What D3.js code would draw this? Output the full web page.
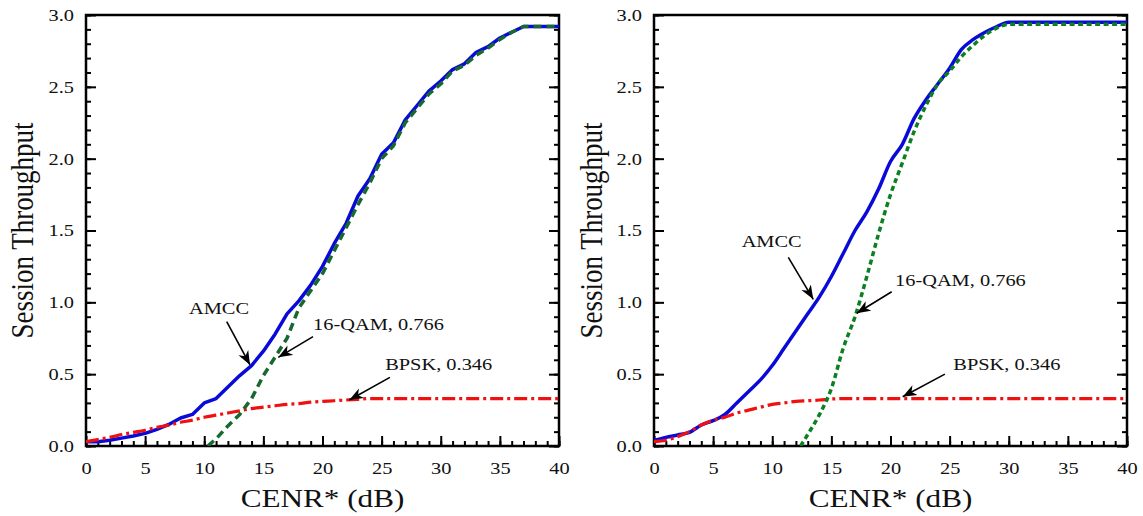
<!DOCTYPE html>
<html lang="en">
<head>
<meta charset="UTF-8">
<title>Session Throughput vs CENR*</title>
<script src="https://d3js.org/d3.v7.min.js"></script>
<style>
  body { margin: 0; background: #fff; }
  svg { display: block; font-family: "Liberation Serif", "Times New Roman", serif; }
</style>
</head>
<body>
<div id="chart"></div>
<script>
// ---- data ----
const snr = [0,1,2,3,4,5,6,7,8,9,10,11,12,13,14,15,16,17,18,19,20,
             21,22,23,24,25,26,27,28,29,30,31,32,33,34,35,36,37,38,39,40];

// left panel
const amccLeft = [0.03,0.03,0.04,0.055,0.07,0.088,0.116,0.15,0.195,0.22,0.30,
                  0.33,0.41,0.49,0.56,0.66,0.78,0.92,1.01,1.12,1.25,
                  1.41,1.55,1.74,1.86,2.03,2.11,2.27,2.37,2.47,2.54,
                  2.62,2.66,2.74,2.78,2.84,2.88,2.92,2.92,2.92,2.92];
const qamLeftX = [10.3,11,12,13,14,15,16,17,18,19,20,21,22,23,24,25,26,27,28,29,30,
                  31,32,33,34,35,36,37,38,39,40];
const qamLeft = [0,0.05,0.14,0.22,0.33,0.49,0.62,0.75,0.96,1.08,1.20,1.36,1.52,1.68,1.83,2.00,
                 2.09,2.25,2.35,2.45,2.52,2.61,2.65,2.72,2.77,2.83,2.88,2.92,2.92,2.92,2.92];
const bpskLeft = [0.03,0.045,0.06,0.08,0.095,0.11,0.13,0.145,0.165,0.18,0.2,
                  0.215,0.23,0.245,0.26,0.27,0.28,0.29,0.295,0.305,0.31,
                  0.315,0.32,0.325,0.33,0.33,0.33,0.33,0.33,0.33,0.33,
                  0.33,0.33,0.33,0.33,0.33,0.33,0.33,0.33,0.33,0.33];

// right panel
const amccRight = [0.04,0.06,0.077,0.095,0.146,0.176,0.22,0.30,0.38,0.46,0.56,
                   0.68,0.80,0.92,1.04,1.18,1.34,1.50,1.63,1.79,1.98,
                   2.10,2.28,2.41,2.52,2.63,2.76,2.83,2.88,2.92,2.95,
                   2.95,2.95,2.95,2.95,2.95,2.95,2.95,2.95,2.95,2.95];
const qamRightX = [12.4,13,14,15,16,17,18,19,20,21,22,23,24,25,26,27,28,29,30,
                   31,32,33,34,35,36,37,38,39,40];
const qamRight = [0,0.08,0.22,0.40,0.68,0.90,1.18,1.48,1.75,1.97,2.19,2.37,2.52,2.61,
                  2.71,2.79,2.86,2.91,2.935,2.935,2.935,2.935,2.935,2.935,2.935,2.935,2.935,2.935,2.935];
const bpskRight = [0.03,0.04,0.065,0.1,0.146,0.18,0.2,0.23,0.25,0.27,0.29,
                   0.30,0.31,0.315,0.32,0.327,0.33,0.33,0.33,0.33,0.33,
                   0.33,0.33,0.33,0.33,0.33,0.33,0.33,0.33,0.33,0.33,
                   0.33,0.33,0.33,0.33,0.33,0.33,0.33,0.33,0.33,0.33];

const labels = ["AMCC", "16-QAM, 0.766", "BPSK, 0.346"];
const yMajor = [0, 0.5, 1.0, 1.5, 2.0, 2.5, 3.0];
const xMajor = [0, 5, 10, 15, 20, 25, 30, 35, 40];

// ---- layout ----
const W = 1143, H = 516;
const plotTop = 15, plotBottom = 446, plotW = 473;
const stretch = 1.2;   // the original figure is slightly wider than tall

const svg = d3.select("#chart").append("svg")
  .attr("width", W).attr("height", H);
svg.append("rect").attr("width", W).attr("height", H).attr("fill", "#fff");

const defs = svg.append("defs");
defs.append("marker")
  .attr("id", "arrow")
  .attr("viewBox", "-14 -6 16 12")
  .attr("refX", 0).attr("refY", 0)
  .attr("markerWidth", 16).attr("markerHeight", 12)
  .attr("markerUnits", "userSpaceOnUse")
  .attr("orient", "auto")
  .append("path")
  .attr("d", "M0,0 L-14,-5.5 L-10,0 L-14,5.5 Z")
  .attr("fill", "#000");

function panel(left, series, notes, titleX) {
  const x = d3.scaleLinear().domain([0, 40]).range([left, left + plotW]);
  const y = d3.scaleLinear().domain([0, 3]).range([plotBottom, plotTop]);
  const g = svg.append("g");

  // minor ticks
  const minorY = d3.range(0, 30.001, 1).map(v => v / 10);
  const minorX = d3.range(0, 41, 1);
  g.append("g").attr("transform", `translate(${left},0)`)
    .call(d3.axisLeft(y).tickValues(minorY).tickSize(-5).tickFormat(""));
  g.append("g").attr("transform", `translate(${left + plotW},0)`)
    .call(d3.axisRight(y).tickValues(minorY).tickSize(-5).tickFormat(""));
  g.append("g").attr("transform", `translate(0,${plotBottom})`)
    .call(d3.axisBottom(x).tickValues(minorX).tickSize(-5).tickFormat(""));

  // major ticks + labels
  const ay = g.append("g").attr("transform", `translate(${left},0)`)
    .call(d3.axisLeft(y).tickValues(yMajor).tickSize(-10).tickPadding(10).tickFormat(d3.format(".1f")));
  g.append("g").attr("transform", `translate(${left + plotW},0)`)
    .call(d3.axisRight(y).tickValues(yMajor).tickSize(-10).tickFormat(""));
  const ax = g.append("g").attr("transform", `translate(0,${plotBottom})`)
    .call(d3.axisBottom(x).tickValues(xMajor).tickSize(-10).tickPadding(16).tickFormat(d3.format("d")));

  g.selectAll(".domain").remove();
  g.selectAll(".tick line").attr("stroke", "#000").attr("stroke-width", 2);
  [ay, ax].forEach(a => a.selectAll("text")
    .attr("font-family", "Liberation Serif")
    .attr("font-size", 17)
    .attr("fill", "#111")
    .attr("transform", `scale(${stretch},1)`));

  // frame
  g.append("rect")
    .attr("x", left).attr("y", plotTop)
    .attr("width", plotW).attr("height", plotBottom - plotTop)
    .attr("fill", "none").attr("stroke", "#000").attr("stroke-width", 2.5);

  // curves
  const clip = "clip" + left;
  defs.append("clipPath").attr("id", clip).append("rect")
    .attr("x", left).attr("y", plotTop - 4).attr("width", plotW).attr("height", plotBottom - plotTop + 4);
  const curves = g.append("g").attr("clip-path", `url(#${clip})`);
  series.forEach(s => {
    const pts = s.xs.map((v, i) => [v, s.ys[i]]);
    curves.append("path")
      .datum(pts)
      .attr("fill", "none")
      .attr("stroke", s.color)
      .attr("stroke-width", s.width)
      .attr("stroke-dasharray", s.dash)
      .attr("stroke-linejoin", "round")
      .attr("d", d3.line().x(d => x(d[0])).y(d => y(d[1])).curve(s.curve));
  });

  // annotations
  notes.forEach((n, i) => {
    g.append("line")
      .attr("x1", x(n.tail[0])).attr("y1", y(n.tail[1]))
      .attr("x2", x(n.tip[0])).attr("y2", y(n.tip[1]))
      .attr("stroke", "#000").attr("stroke-width", 1.6)
      .attr("marker-end", "url(#arrow)");
    g.append("text")
      .attr("transform", `translate(${x(n.at[0])},${y(n.at[1])}) scale(${stretch},1)`)
      .attr("text-anchor", n.anchor)
      .attr("font-size", 17)
      .attr("fill", "#111")
      .text(labels[i]);
  });

  // axis titles
  g.append("text")
    .attr("transform", `translate(${titleX},${(plotTop + plotBottom) / 2}) scale(${stretch},1) rotate(-90)`)
    .attr("text-anchor", "middle")
    .attr("font-size", 27)
    .attr("fill", "#111")
    .text("Session Throughput");
  g.append("text")
    .attr("transform", `translate(${left + plotW / 2},507) scale(${stretch},1)`)
    .attr("text-anchor", "middle")
    .attr("font-size", 26)
    .attr("fill", "#111")
    .text("CENR* (dB)");
}

panel(86, [
  { xs: snr, ys: amccLeft, color: "#0a0ad8", width: 3.5, dash: null, curve: d3.curveLinear },
  { xs: snr, ys: bpskLeft, color: "#f01010", width: 3.2, dash: "13,4,3,4", curve: d3.curveMonotoneX },
  { xs: qamLeftX, ys: qamLeft, color: "#17692f", width: 3.5, dash: "8,5", curve: d3.curveLinear }
], [
  { at: [11.25, 0.92], anchor: "middle", tail: [11.9, 0.865], tip: [13.87, 0.564] },
  { at: [19.2, 0.807], anchor: "start", tail: [19.2, 0.761], tip: [16.26, 0.617] },
  { at: [25.3, 0.529], anchor: "start", tail: [25.7, 0.478], tip: [22.27, 0.32] }
], 33);

panel(654, [
  { xs: snr, ys: amccRight, color: "#0a0ad8", width: 3.5, dash: null, curve: d3.curveMonotoneX },
  { xs: snr, ys: bpskRight, color: "#f01010", width: 3.2, dash: "13,4,3,4", curve: d3.curveMonotoneX },
  { xs: qamRightX, ys: qamRight, color: "#0b8020", width: 3.5, dash: "5,3.5", curve: d3.curveMonotoneX }
], [
  { at: [9.95, 1.383], anchor: "middle", tail: [11.36, 1.313], tip: [13.47, 1.021] },
  { at: [20.38, 1.114], anchor: "start", tail: [20.1, 1.074], tip: [17.14, 0.924] },
  { at: [25.31, 0.529], anchor: "start", tail: [24.6, 0.50], tip: [21.03, 0.343] }
], 602);
</script>
</body>
</html>
